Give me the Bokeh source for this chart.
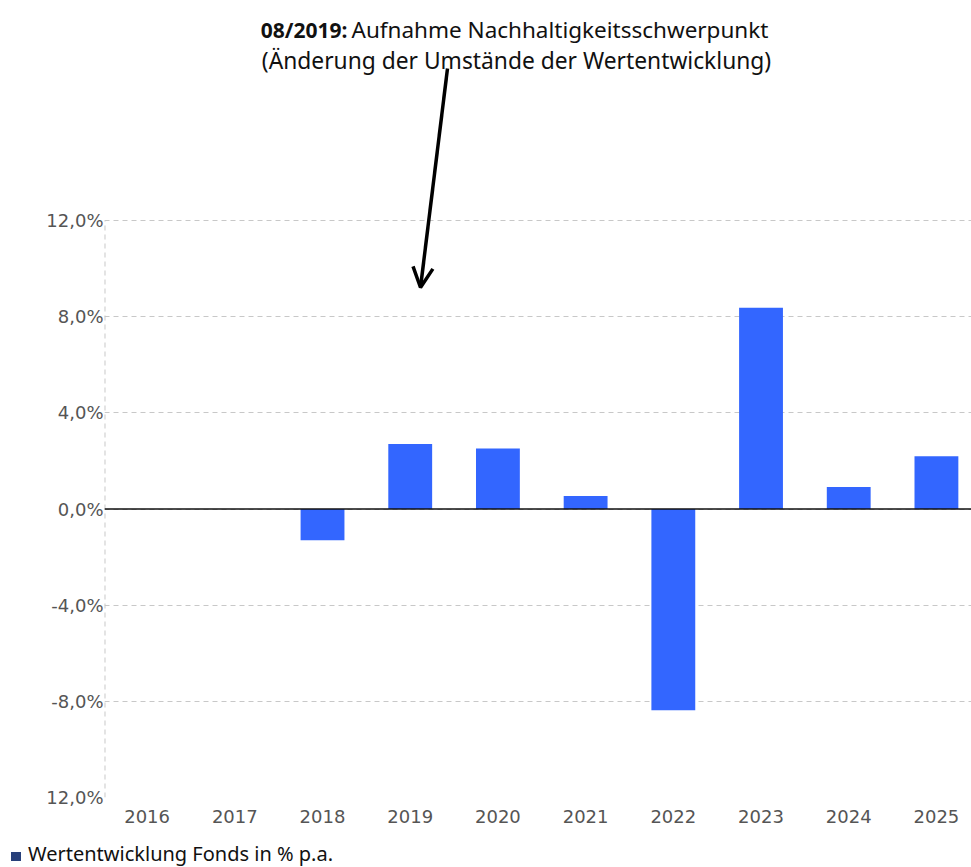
import numpy as np
from bokeh.plotting import figure
from bokeh.layouts import column
from bokeh.models import (Range1d, FixedTicker, Span, Label, Arrow, OpenHead,
                          ColumnDataSource, Div)
from bokeh.embed import file_html
from bokeh.resources import INLINE

# ---------------- data ----------------
years = ["2016", "2017", "2018", "2019", "2020", "2021", "2022", "2023", "2024", "2025"]
returns = [np.nan, np.nan, -1.3, 2.7, 2.52, 0.54, -8.37, 8.37, 0.92, 2.2]
y_ticks = [-12, -8, -4, 0, 4, 8, 12]
y_tick_labels = ["12,0%", "-8,0%", "-4,0%", "0,0%", "4,0%", "8,0%", "12,0%"]
legend_label = "Wertentwicklung Fonds in % p.a."
note_bold = "08/2019:"
note_line1 = "Aufnahme Nachhaltigkeitsschwerpunkt"
note_line2 = "(Änderung der Umstände der Wertentwicklung)"

# ---------------- layout ----------------
W, H = 971, 840
LEG_H = 27
BORDER_LEFT, BORDER_BOTTOM = 104, 43
PX_PER_X, PX_PER_Y = 87.7, 24.04
frame_w = W - BORDER_LEFT
frame_h = H - BORDER_BOTTOM
X_START = -0.486
X_END = X_START + frame_w / PX_PER_X
Y_START = -12
Y_END = Y_START + frame_h / PX_PER_Y

FRAME_LEFT_PAGE, FRAME_TOP_PAGE = BORDER_LEFT, 0


def xd(px):
    return X_START + (px - FRAME_LEFT_PAGE) / PX_PER_X


def yd(py):
    return Y_END - (py - FRAME_TOP_PAGE) / PX_PER_Y


BAR_COLOR = "#3366ff"
LEGEND_COLOR = "#28407a"
GRID_COLOR = "#c8c8c8"
TICK_COLOR = "#555555"

p = figure(width=W, height=H, title=None,
           x_range=Range1d(X_START, X_END), y_range=Range1d(Y_START, Y_END),
           output_backend="svg", toolbar_location=None,
           min_border_left=BORDER_LEFT, min_border_right=0,
           min_border_top=0, min_border_bottom=BORDER_BOTTOM)
p.outline_line_color = None
p.background_fill_color = "white"

idx = list(range(len(years)))
src = ColumnDataSource(dict(x=idx, top=returns, year=years))
p.vbar(x="x", top="top", bottom=0, width=0.5, source=src,
       fill_color=BAR_COLOR, line_color=None)

# y axis dashed line (only between the outer ticks)
p.segment(x0=[X_START], y0=[y_ticks[0]], x1=[X_START], y1=[y_ticks[-1]],
          line_color=GRID_COLOR, line_width=2, line_dash="5 4")

# zero line
p.add_layout(Span(location=0, dimension="width", line_color="#111111", line_width=1.6))

# axes
p.xaxis.ticker = FixedTicker(ticks=idx)
p.xaxis.major_label_overrides = {i: y for i, y in zip(idx, years)}
p.xaxis.axis_line_color = None
p.xaxis.major_tick_line_color = None
p.xaxis.minor_tick_line_color = None
p.xaxis.major_tick_out = 0
p.xaxis.major_label_standoff = 12
p.xaxis.major_label_text_font = "DejaVu Sans"
p.xaxis.major_label_text_font_size = "18px"
p.xaxis.major_label_text_color = TICK_COLOR

p.yaxis.ticker = FixedTicker(ticks=y_ticks)
p.yaxis.major_label_overrides = {t: l for t, l in zip(y_ticks, y_tick_labels)}
p.yaxis.axis_line_color = None
p.yaxis.major_tick_line_color = None
p.yaxis.minor_tick_line_color = None
p.yaxis.major_tick_out = 0
p.yaxis.major_label_standoff = 1
p.yaxis.major_label_text_font = "DejaVu Sans"
p.yaxis.major_label_text_font_size = "18px"
p.yaxis.major_label_text_color = TICK_COLOR

p.xgrid.visible = False
p.ygrid.ticker = FixedTicker(ticks=y_ticks)
p.ygrid.grid_line_color = GRID_COLOR
p.ygrid.grid_line_dash = "5 4"
p.ygrid.grid_line_width = 1

# annotation text
p.add_layout(Label(x=xd(347), y=yd(29), text=note_bold, text_align="right",
                   text_baseline="alphabetic", text_font="Noto Sans",
                   text_font_style="bold", text_font_size="21px", text_color="#111111"))
p.add_layout(Label(x=xd(351), y=yd(29), text=note_line1, text_align="left",
                   text_baseline="alphabetic", text_font="Noto Sans",
                   text_font_size="22.5px", text_color="#111111"))
p.add_layout(Label(x=xd(516), y=yd(60), text=note_line2, text_align="center",
                   text_baseline="alphabetic", text_font="Noto Sans",
                   text_font_size="22.8px", text_color="#111111"))

# arrow
p.add_layout(Arrow(x_start=xd(447), y_start=yd(68), x_end=xd(420), y_end=yd(287),
                   line_width=3.5, line_color="black",
                   end=OpenHead(size=20, line_width=3.5, line_color="black")))

# ---------------- legend strip ----------------
legend_html = (
    '<div style="white-space:nowrap;font-family:\'Noto Sans\';font-size:20px;'
    'line-height:27px;color:#111111;padding-left:11px;">'
    f'<span style="display:inline-block;width:10px;height:9px;background:{LEGEND_COLOR};'
    'margin-right:7px;vertical-align:baseline;"></span>'
    f'{legend_label}</div>'
)
legend_div = Div(text=legend_html, width=W, height=LEG_H,
                 styles={"margin": "0", "padding": "0"})

layout = column(p, legend_div, spacing=0)
open("out.html", "w").write(file_html(layout, INLINE))
